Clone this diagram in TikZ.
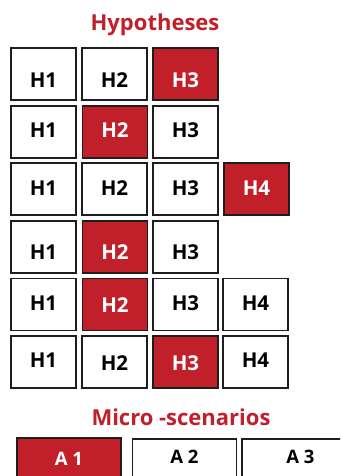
\documentclass[tikz,border=0pt]{standalone}
\usepackage{fontspec}
\setmainfont{Open Sans}
\definecolor{hred}{HTML}{C1202B}
\definecolor{hline}{HTML}{1E1E1E}
\tikzset{
  box/.style={draw=hline, line width=1.3pt, minimum width=65pt, minimum height=52pt, inner sep=0pt, fill=white},
  abox/.style={box, minimum width=104pt},
  wfill/.style={fill=white},
  rfill/.style={fill=hred},
  wtxt/.style={font=\fontsize{20.5}{20.5}\selectfont\bfseries, text=black, inner sep=0pt},
  rtxt/.style={font=\fontsize{20.5}{20.5}\selectfont\bfseries, text=white, inner sep=0pt},
  atxtw/.style={font=\fontsize{18.5}{18.5}\selectfont\bfseries, text=black, inner sep=0pt},
  atxtr/.style={font=\fontsize{18.5}{18.5}\selectfont\bfseries, text=white, inner sep=0pt},
  ttl/.style={font=\fontsize{22}{22}\selectfont\bfseries, text=hred, inner sep=0pt, anchor=base}
}
% name, x, y, colour (w/r), text, yshift
\newcommand\hbx[6]{%
  \node[box,#4fill] (#1) at (#2,#3) {};
  \node[#4txt] (#1t) at ([yshift=#6pt]#1.center) {#5};}
\begin{document}
\begin{tikzpicture}[x=1pt,y=-1pt]
\useasboundingbox (0,0) rectangle (340,476);
\clip (0,0) rectangle (340,476);
\node[ttl] (title) at (155,31) {Hypotheses};
% row 1
\hbx{a11}{43.5}{74}{w}{H1}{-6}
\hbx{a12}{114.5}{74}{w}{H2}{-6}
\hbx{a13}{185.5}{74}{r}{H3}{-6}
% row 2
\hbx{a21}{43.5}{132}{w}{H1}{2}
\hbx{a22}{115}{132}{r}{H2}{2}
\hbx{a23}{185.5}{132}{w}{H3}{2}
% row 3
\hbx{a31}{43.5}{189}{w}{H1}{1}
\hbx{a32}{114.5}{189}{w}{H2}{1}
\hbx{a33}{185.5}{189}{w}{H3}{1}
\hbx{a34}{256.5}{189}{r}{H4}{1}
% row 4
\hbx{a41}{43.5}{247}{w}{H1}{-5}
\hbx{a42}{115}{247}{r}{H2}{-5}
\hbx{a43}{185.5}{247}{w}{H3}{-5}
% row 5
\hbx{a51}{43.5}{304.5}{w}{H1}{1}
\hbx{a52}{115}{304.5}{r}{H2}{-1}
\hbx{a53}{185.5}{304.5}{w}{H3}{1}
\hbx{a54}{255.5}{304.5}{w}{H4}{1}
% row 6
\hbx{a61}{43.5}{362}{w}{H1}{2}
\hbx{a62}{114.5}{362}{w}{H2}{-1}
\hbx{a63}{185.5}{362}{r}{H3}{-1}
\hbx{a64}{255.5}{362}{w}{H4}{2}
% micro-scenarios
\node[ttl] (title2) at (181,425) {Micro -scenarios};
\node[abox,rfill] (s1) at (69,464) {};
\node[atxtr] (s1t) at ([yshift=5.5pt]s1.center) {A 1};
\node[abox,wfill] (s2) at (184.5,465) {};
\node[atxtw] (s2t) at ([yshift=8pt]s2.center) {A 2};
\node[abox,wfill] (s3) at (294,465) {};
\node[atxtw] (s3t) at ([xshift=6.5pt,yshift=8pt]s3.center) {A 3};
\end{tikzpicture}
\end{document}
